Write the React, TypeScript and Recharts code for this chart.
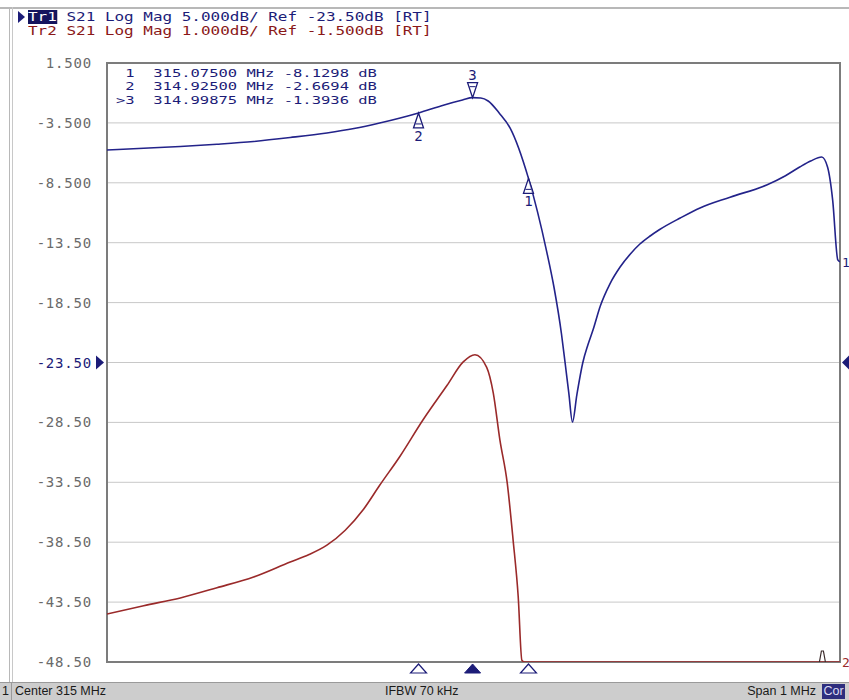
import React from "react";
import {
  LineChart, Line, XAxis, YAxis, CartesianGrid, ReferenceDot, ReferenceArea,
} from "recharts";

// frequency axis, MHz (center 315, span 1 MHz)
const freqTicks = [314.5, 314.6, 314.7, 314.8, 314.9, 315.0, 315.1, 315.2, 315.3, 315.4, 315.5];

// Tr1 scale: 5 dB/div, ref -23.5 dB
const tr1Ticks = [1.5, -3.5, -8.5, -13.5, -18.5, -23.5, -28.5, -33.5, -38.5, -43.5, -48.5];
const tr1TickLabels = ["1.500", "-3.500", "-8.500", "-13.50", "-18.50", "-23.50", "-28.50", "-33.50", "-38.50", "-43.50", "-48.50"];
const refLevel = -23.5;

// Tr1 S21 (dB)
const tr1Freq = [
  314.5, 314.55, 314.6, 314.65, 314.7, 314.75, 314.8, 314.837, 314.872, 314.9,
  314.925, 314.96, 314.985, 314.99875, 315.01, 315.02, 315.035, 315.05, 315.075, 315.1,
  315.11, 315.12, 315.125, 315.13, 315.135, 315.141, 315.149, 315.156, 315.163, 315.173,
  315.186, 315.2, 315.214, 315.227, 315.241, 315.254, 315.282, 315.309, 315.35, 315.4,
  315.425, 315.445, 315.46, 315.475, 315.483, 315.49, 315.497, 315.5,
];
const tr1Mag = [
  -5.76, -5.62, -5.47, -5.28, -5.05, -4.72, -4.34, -3.97, -3.51, -3.09,
  -2.6694, -2.0, -1.59, -1.3936, -1.42, -1.67, -2.67, -3.93, -8.1298, -14.28,
  -17.28, -21.1, -23.54, -26.04, -28.47, -26.2, -23.54, -22.04, -20.79, -18.78,
  -16.95, -15.53, -14.44, -13.61, -12.94, -12.4, -11.44, -10.6, -9.7, -8.68,
  -7.93, -7.18, -6.68, -6.35, -7.18, -9.94, -14.94, -15.1,
];

// Tr2 S21 (dB), 1 dB/div, ref -1.5 dB
const tr2Domain = [-6.5, 3.5];
const tr2Freq = [
  314.5, 314.55, 314.6, 314.65, 314.7, 314.75, 314.775, 314.8, 314.825, 314.85,
  314.872, 314.9, 314.931, 314.964, 314.986, 315.002, 315.018, 315.027, 315.036, 315.046,
  315.054, 315.061, 315.066, 315.07, 315.5,
];
const tr2Mag = [
  -5.7, -5.56, -5.43, -5.26, -5.08, -4.83, -4.71, -4.55, -4.3, -3.95,
  -3.55, -3.06, -2.46, -1.88, -1.49, -1.37, -1.58, -2.01, -2.79, -3.51,
  -4.46, -5.41, -6.47, -6.5, -6.5,
];

// markers on Tr1
const markerNum = ["1", "2", "3"];
const markerFreq = [315.075, 314.925, 314.99875];
const markerMag = [-8.1298, -2.6694, -1.3936];
const markerAbove = [false, false, true];
const activeMarker = 2;
const markerRows = [
  " 1  315.07500 MHz -8.1298 dB",
  " 2  314.92500 MHz -2.6694 dB",
  ">3  314.99875 MHz -1.3936 dB",
];
const tr2MarkerFreq = [315.476];

const tr1Data = tr1Freq.map((f, i) => ({ f, v: tr1Mag[i] }));
const tr2Data = tr2Freq.map((f, i) => ({ f, v: tr2Mag[i] }));

const NAVY = "#1c1c78";
const BLUE = "#23238a";
const RED = "#9a2a2a";
const MONO = "'DejaVu Sans Mono', 'Liberation Mono', monospace";

const YTick = (props: any) => {
  const { y, payload, index } = props;
  const isRef = payload.value === refLevel;
  return (
    <text x={92} y={y} dy={5} textAnchor="end" fontFamily={MONO} fontSize={14}
      letterSpacing={0.8} fill={isRef ? NAVY : "#6a6a6a"}>
      {tr1TickLabels[index]}
    </text>
  );
};

const MarkerShape = (i: number) => (props: any) => {
  const { cx, cy } = props;
  if (markerAbove[i]) {
    return (
      <g>
        <polygon points={`${cx - 5},${cy - 15} ${cx + 5},${cy - 15} ${cx},${cy}`}
          fill="#fff" fillOpacity={0.6} stroke={NAVY} strokeWidth={1.3} />
        <line x1={cx - 3} y1={cy - 11} x2={cx + 3} y2={cy - 11} stroke={NAVY} strokeWidth={1} />
        <text x={cx} y={cy - 18} textAnchor="middle" fontFamily={MONO} fontSize={14} fill={NAVY}>
          {markerNum[i]}
        </text>
      </g>
    );
  }
  return (
    <g>
      <polygon points={`${cx},${cy} ${cx - 5},${cy + 15} ${cx + 5},${cy + 15}`}
        fill="#fff" fillOpacity={0.6} stroke={NAVY} strokeWidth={1.3} />
      <line x1={cx - 3} y1={cy + 11} x2={cx + 3} y2={cy + 11} stroke={NAVY} strokeWidth={1} />
      <text x={cx} y={cy + 28} textAnchor="middle" fontFamily={MONO} fontSize={14} fill={NAVY}>
        {markerNum[i]}
      </text>
    </g>
  );
};

const StimShape = (i: number) => (props: any) => {
  const { cx, cy } = props;
  const pts = `${cx},${cy + 2} ${cx - 8},${cy + 11} ${cx + 8},${cy + 11}`;
  return i === activeMarker
    ? <polygon points={pts} fill={NAVY} stroke={NAVY} />
    : <polygon points={pts} fill="#fff" stroke={NAVY} strokeWidth={1.2} />;
};

const RefLeft = (props: any) => {
  const { cx, cy } = props;
  return <polygon points={`${cx - 11},${cy - 7} ${cx - 3},${cy} ${cx - 11},${cy + 7}`} fill={NAVY} />;
};
const RefRight = (props: any) => {
  const { cx, cy } = props;
  return <polygon points={`${cx + 9},${cy - 7} ${cx + 2},${cy} ${cx + 9},${cy + 7}`} fill={NAVY} />;
};
const EndLabel = (txt: string, color: string) => (props: any) => {
  const { cx, cy } = props;
  return <text x={cx + 2} y={cy + 5} fontFamily={MONO} fontSize={13} fill={color}>{txt}</text>;
};
const Tr2Mark = (props: any) => {
  const { cx, cy } = props;
  return (
    <polyline points={`${cx - 3},${cy} ${cx - 1},${cy - 11} ${cx + 1},${cy - 11} ${cx + 3},${cy}`}
      fill="none" stroke="#3a2a2a" strokeWidth={1.2} />
  );
};

// the analyser's bitmap font has wide cells, so narrow mono text is stretched sideways
const headStyle: React.CSSProperties = {
  position: "absolute", left: 28, fontFamily: MONO, fontSize: 12, lineHeight: "14px",
  height: 14, whiteSpace: "pre", transform: "scaleX(1.33)", transformOrigin: "0 0",
};

export default function App() {
  return (
    <div style={{ position: "relative", width: 849, height: 700, background: "#fff", overflow: "hidden" }}>
      <style>{"body{margin:0}"}</style>

      {/* window frame */}
      <div style={{ position: "absolute", left: 0, top: 7, width: 849, height: 2, background: "#b8b8b8" }} />
      <div style={{ position: "absolute", left: 9, top: 7, width: 4, height: 675, borderLeft: "1px solid #b8b8b8", borderRight: "1px solid #c8c8c8", boxSizing: "border-box" }} />

      <LineChart width={849} height={700} data={tr1Data}
        margin={{ top: 63, right: 9, bottom: 38, left: 0 }}
        style={{ position: "absolute", left: 0, top: 0 }}>
        <CartesianGrid stroke="#c8c8c8" strokeWidth={1} />
        <XAxis dataKey="f" type="number" domain={[314.5, 315.5]} ticks={freqTicks}
          height={0} tick={false} axisLine={false} tickLine={false} allowDataOverflow />
        <YAxis type="number" domain={[-48.5, 1.5]} ticks={tr1Ticks} width={107}
          axisLine={false} tickLine={false} tick={<YTick />} interval={0} allowDataOverflow />
        <YAxis yAxisId="tr2" type="number" domain={tr2Domain} hide allowDataOverflow />
        <ReferenceArea x1={314.5} x2={315.5} y1={-48.5} y2={1.5} fill="none"
          stroke="#7c7c7c" strokeWidth={2} />
        <Line data={tr2Data} yAxisId="tr2" dataKey="v" type="monotone" stroke={RED}
          strokeWidth={1.6} dot={false} isAnimationActive={false} />
        <Line data={tr1Data} dataKey="v" type="monotone" stroke={BLUE}
          strokeWidth={1.6} dot={false} isAnimationActive={false} />
        {markerFreq.map((f, i) => (
          <ReferenceDot key={"m" + i} x={f} y={markerMag[i]} shape={MarkerShape(i)} />
        ))}
        {markerFreq.map((f, i) => (
          <ReferenceDot key={"s" + i} x={f} y={-48.5} shape={StimShape(i)} />
        ))}
        {tr2MarkerFreq.map((f, i) => (
          <ReferenceDot key={"t" + i} yAxisId="tr2" x={f} y={tr2Domain[0]} shape={Tr2Mark} />
        ))}
        <ReferenceDot x={314.5} y={refLevel} shape={RefLeft} />
        <ReferenceDot x={315.5} y={refLevel} shape={RefRight} />
        <ReferenceDot x={315.5} y={tr1Mag[tr1Mag.length - 1]} shape={EndLabel("1", NAVY)} />
        <ReferenceDot yAxisId="tr2" x={315.5} y={tr2Mag[tr2Mag.length - 1]} shape={EndLabel("2", RED)} />
      </LineChart>

      {/* trace header */}
      <svg style={{ position: "absolute", left: 0, top: 0 }} width={60} height={30}>
        <polygon points="18,11 25,17 18,23" fill={NAVY} />
      </svg>
      <div style={{ ...headStyle, top: 10, color: NAVY }}>
        <span style={{ background: "#14145e", color: "#fff", display: "inline-block", height: 14 }}>Tr1</span>
        {" S21 Log Mag 5.000dB/ Ref -23.50dB [RT]"}
      </div>
      <div style={{ ...headStyle, top: 24, color: "#8a1818" }}>
        {"Tr2 S21 Log Mag 1.000dB/ Ref -1.500dB [RT]"}
      </div>

      {/* marker table */}
      <div style={{ position: "absolute", left: 116, top: 67, fontFamily: MONO, fontSize: 11.3, whiteSpace: "pre", color: NAVY, transform: "scaleX(1.37)", transformOrigin: "0 0" }}>
        {markerRows.map((r) => (
          <div key={r} style={{ height: 13.3, lineHeight: "13.3px" }}>{r}</div>
        ))}
      </div>

      {/* status bar */}
      <div style={{ position: "absolute", left: 0, top: 682, width: 849, height: 18, background: "#cdcdcd", borderTop: "1px solid #9a9a9a", boxSizing: "border-box", fontFamily: "'Liberation Sans', 'DejaVu Sans', sans-serif", fontSize: 12.5, color: "#1a1a1a" }}>
        <div style={{ position: "absolute", left: 0, top: 0, width: 11, height: 17, borderRight: "1px solid #9a9a9a", textAlign: "center", lineHeight: "17px" }}>1</div>
        <div style={{ position: "absolute", left: 15, top: 0, lineHeight: "17px" }}>Center 315 MHz</div>
        <div style={{ position: "absolute", left: 385, top: 0, lineHeight: "17px" }}>IFBW 70 kHz</div>
        <div style={{ position: "absolute", right: 33, top: 0, lineHeight: "17px" }}>Span 1 MHz</div>
        <div style={{ position: "absolute", left: 822, top: 1, width: 23, height: 15, background: "#2e2e7e", color: "#dcdcf4", textAlign: "center", lineHeight: "15px" }}>Cor</div>
      </div>
    </div>
  );
}
